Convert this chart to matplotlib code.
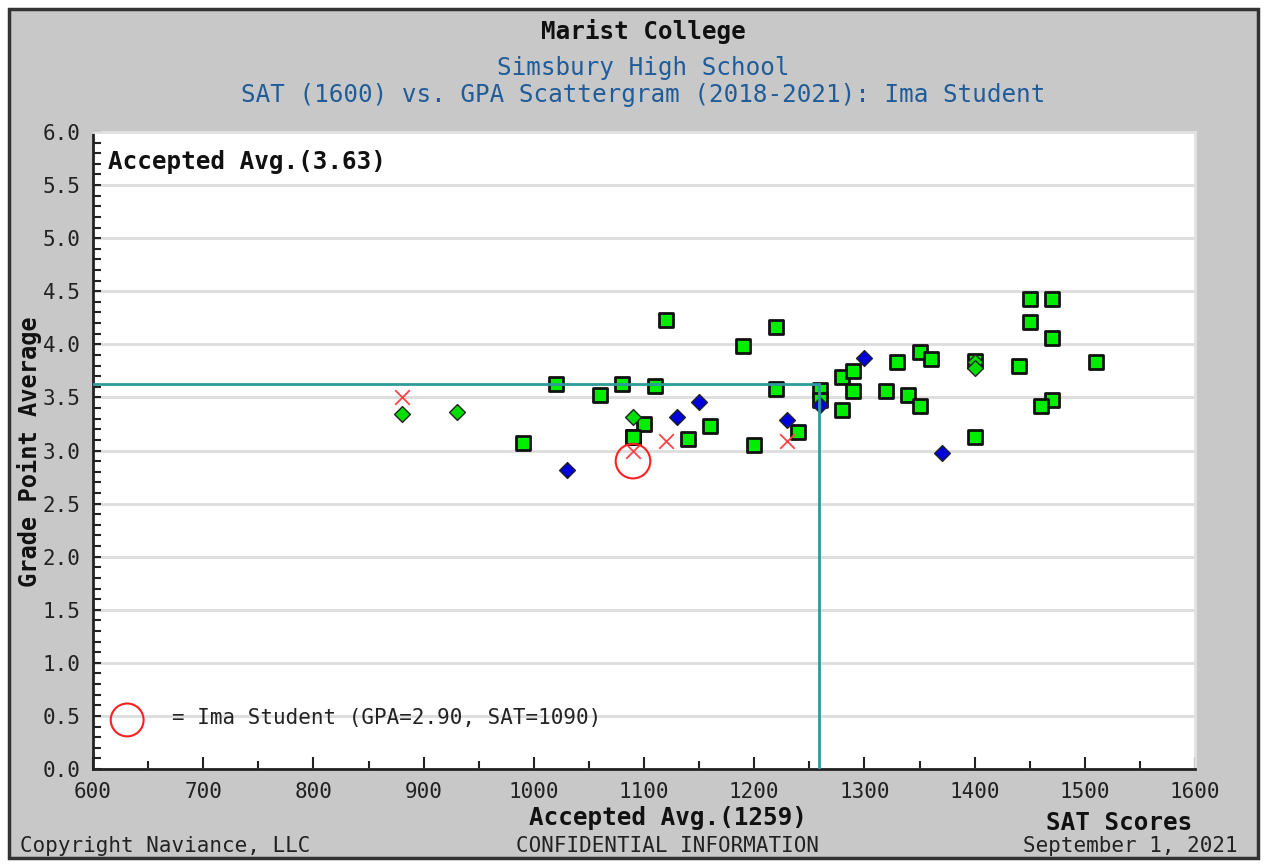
import matplotlib
matplotlib.use("Agg")
import matplotlib.pyplot as plt
from matplotlib.patches import Rectangle
from matplotlib.ticker import MultipleLocator, FormatStrFormatter

# ---- data ----
accepted_sat = [990, 1020, 1060, 1080, 1110, 1120, 1090, 1100, 1090, 1140, 1160,
                1190, 1220, 1220, 1200, 1240, 1260, 1260, 1280, 1290, 1290, 1280,
                1320, 1330, 1350, 1360, 1340, 1350, 1450, 1470, 1450, 1470, 1400,
                1440, 1510, 1470, 1460, 1400]
accepted_gpa = [3.07, 3.63, 3.52, 3.63, 3.61, 4.23, 3.13, 3.25, 3.13, 3.11, 3.23,
                3.98, 4.16, 3.58, 3.05, 3.17, 3.57, 3.48, 3.69, 3.75, 3.56, 3.38,
                3.56, 3.83, 3.93, 3.86, 3.52, 3.42, 4.43, 4.43, 4.21, 4.06, 3.84,
                3.80, 3.83, 3.48, 3.42, 3.13]
green_diamond_sat = [880, 930, 1090, 1400, 1400]
green_diamond_gpa = [3.34, 3.36, 3.32, 3.83, 3.78]
blue_diamond_sat = [1030, 1130, 1150, 1230, 1260, 1300, 1370]
blue_diamond_gpa = [2.82, 3.32, 3.46, 3.29, 3.43, 3.87, 2.98]
denied_sat = [880, 1090, 1120, 1230]
denied_gpa = [3.50, 3.00, 3.09, 3.09]
student_sat = 1090
student_gpa = 2.90
avg_sat = 1259
avg_gpa = 3.63

W, H = 1266, 865
fig = plt.figure(figsize=(W / 100, H / 100), dpi=100)
fig.patch.set_facecolor("white")

def fx(x):
    return x / W

def fy(y):
    return 1 - y / H

# gray panel with dark border
panel = Rectangle((fx(9), fy(858)), fx(1249), 849 / H, transform=fig.transFigure,
                  facecolor="#C8C8C8", edgecolor="#333333", linewidth=2.5, zorder=-5)
fig.add_artist(panel)

ax = fig.add_axes([fx(93), fy(769), fx(1195 - 93), (769 - 132) / H])
ax.set_zorder(2)
ax.set_facecolor("white")
ax.set_xlim(600, 1600)
ax.set_ylim(0, 6)

ax.xaxis.set_major_locator(MultipleLocator(100))
ax.xaxis.set_minor_locator(MultipleLocator(50))
ax.yaxis.set_major_locator(MultipleLocator(0.5))
ax.yaxis.set_minor_locator(MultipleLocator(0.1))
ax.yaxis.set_major_formatter(FormatStrFormatter("%.1f"))

mono = "DejaVu Sans Mono"
ax.tick_params(axis="x", which="major", direction="in", length=9, width=1.5, color="#222222",
               labelsize=15, pad=9)
ax.tick_params(axis="x", which="minor", direction="in", length=6, width=1.5, color="#222222")
ax.tick_params(axis="y", which="both", direction="in", length=6, width=1.5, color="#222222",
               labelsize=15, pad=9)
for lab in ax.get_xticklabels() + ax.get_yticklabels():
    lab.set_fontfamily(mono)
    lab.set_color("#222222")

for s in ["left", "bottom"]:
    ax.spines[s].set_color("#222222")
    ax.spines[s].set_linewidth(2)
for s in ["top", "right"]:
    ax.spines[s].set_color("#E2E2E2")
    ax.spines[s].set_linewidth(2)

ax.yaxis.grid(True, which="major", color="#DDDDDD", linewidth=2)
ax.set_axisbelow(True)

# markers
ax.scatter(accepted_sat, accepted_gpa, marker="s", s=105, facecolor="#00EE00",
           edgecolor="#111111", linewidth=2, zorder=3)
ax.scatter(green_diamond_sat, green_diamond_gpa, marker="D", s=65, facecolor="#00DD00",
           edgecolor="#222222", linewidth=1, zorder=4)
ax.scatter(blue_diamond_sat, blue_diamond_gpa, marker="D", s=65, facecolor="#0000DD",
           edgecolor="#222222", linewidth=1, zorder=4)
ax.scatter(denied_sat, denied_gpa, marker="x", s=110, color="#FF4444", linewidth=1.3, zorder=4)
ax.scatter([student_sat], [student_gpa], marker="o", s=620, facecolor="none",
           edgecolor="#FF2020", linewidth=1.5, zorder=5)

# accepted average lines
ax.plot([600, avg_sat], [avg_gpa, avg_gpa], color="#2E9A9A", linewidth=2, zorder=6)
ax.plot([avg_sat, avg_sat], [0, avg_gpa], color="#2E9A9A", linewidth=2, zorder=6)

ax.text(0.0135, 0.953, "Accepted Avg.(%.2f)" % avg_gpa, transform=ax.transAxes,
        fontfamily=mono, fontweight="bold", fontsize=17.5, color="#111111", va="center", ha="left")

# legend for student
ax.scatter([0.031], [0.077], marker="o", s=560, facecolor="none", edgecolor="#FF2020",
           linewidth=1.5, transform=ax.transAxes, clip_on=False, zorder=5)
ax.text(0.072, 0.08, "= Ima Student (GPA=%.2f, SAT=%d)" % (student_gpa, student_sat),
        transform=ax.transAxes, fontfamily=mono, fontsize=15, color="#222222",
        va="center", ha="left")

# titles
fig.text(fx(643), fy(31), "Marist College", fontfamily=mono, fontweight="bold",
         fontsize=17.5, color="#111111", ha="center", va="center")
fig.text(fx(643), fy(68), "Simsbury High School", fontfamily=mono,
         fontsize=17.5, color="#1F5C99", ha="center", va="center")
fig.text(fx(643), fy(95), "SAT (1600) vs. GPA Scattergram (2018-2021): Ima Student",
         fontfamily=mono, fontsize=17.5, color="#1F5C99", ha="center", va="center")

fig.text(fx(30), fy(452), "Grade Point Average", fontfamily=mono, fontweight="bold",
         fontsize=17, color="#111111", ha="center", va="center", rotation=90)
fig.text(fx(668), fy(818), "Accepted Avg.(%d)" % avg_sat, fontfamily=mono, fontweight="bold",
         fontsize=17.5, color="#111111", ha="center", va="center")
fig.text(fx(1119), fy(823), "SAT Scores", fontfamily=mono, fontweight="bold",
         fontsize=17.5, color="#111111", ha="center", va="center")
fig.text(fx(20), fy(846), "Copyright Naviance, LLC", fontfamily=mono,
         fontsize=15, color="#222222", ha="left", va="center")
fig.text(fx(668), fy(846), "CONFIDENTIAL INFORMATION", fontfamily=mono,
         fontsize=15, color="#222222", ha="center", va="center")
fig.text(fx(1238), fy(846), "September 1, 2021", fontfamily=mono,
         fontsize=15, color="#222222", ha="right", va="center")

fig.savefig("out.png", dpi=100, facecolor=fig.get_facecolor())
